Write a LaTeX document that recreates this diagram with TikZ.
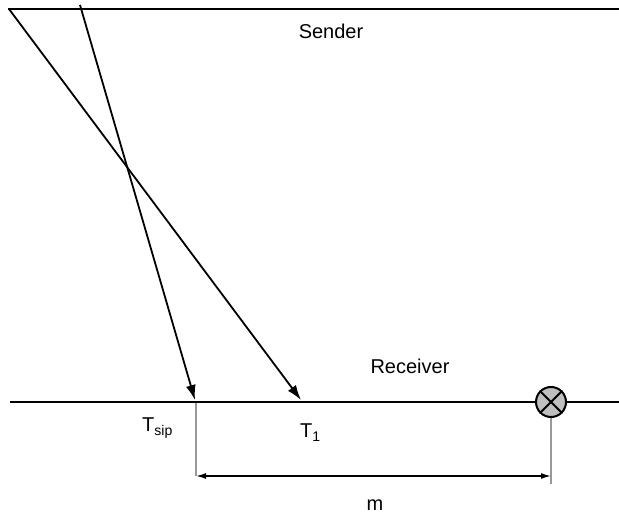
\documentclass[tikz,border=0pt]{standalone}
\usepackage{fontspec}
\setmainfont{Liberation Sans}
\usetikzlibrary{arrows.meta}
\newcommand{\sub}[1]{\raisebox{-0.4ex}{\fontsize{14}{16}\selectfont #1}}
\tikzset{
  wire/.style={line width=2.8pt},
  ray/.style={line width=1.8pt,arrows={-{Latex[length=15pt,width=10pt]}}},
  tick/.style={line width=1.2pt,color=black!40},
  lbl/.style={font=\fontsize{20}{24}\selectfont,inner sep=0pt}
}
\begin{document}
\begin{tikzpicture}[x=1pt,y=-1pt]
  \useasboundingbox (0,0) rectangle (619,513);

  \coordinate (sl) at (8,9);
  \coordinate (sr) at (619,9);
  \coordinate (rl) at (10,402);
  \coordinate (rr) at (619,402);
  \draw[wire] (sl) -- (sr);
  \draw[wire] (rl) -- (rr);
  \node[lbl] (sender) at (331,31) {Sender};
  \node[lbl] (receiver) at (410,366) {Receiver};

  \coordinate (s1) at (9,9);
  \coordinate (s2) at (80,5);
  \coordinate (h1) at (301,400);
  \coordinate (h2) at (195,400);
  \draw[ray] (s1) -- (h1);
  \draw[ray] (s2) -- (h2);

  \node[draw,line width=2pt,circle,fill=black!25,minimum size=30pt,inner sep=0pt] (det) at (551,402) {};
  \draw[line width=1.8pt] (det.north west) -- (det.south east);
  \draw[line width=1.8pt] (det.north east) -- (det.south west);

  \node[lbl,anchor=base west] (tsip) at (142,431) {T\sub{sip}};
  \node[lbl,anchor=base west] (tone) at (300,437) {T\sub{1}};

  \coordinate (ta) at (196,403);
  \coordinate (tb) at (196,476);
  \coordinate (tc) at (551,476);
  \draw[tick] (ta) -- (tb);
  \draw[tick] (det.south) -- ([yshift=-8pt]tc);
  \draw[line width=1.5pt,arrows={Latex[length=10pt,width=6pt]-Latex[length=10pt,width=6pt]}] (tb) -- (tc);
  \node[lbl,anchor=base] (m) at (375,510) {m};
\end{tikzpicture}
\end{document}
